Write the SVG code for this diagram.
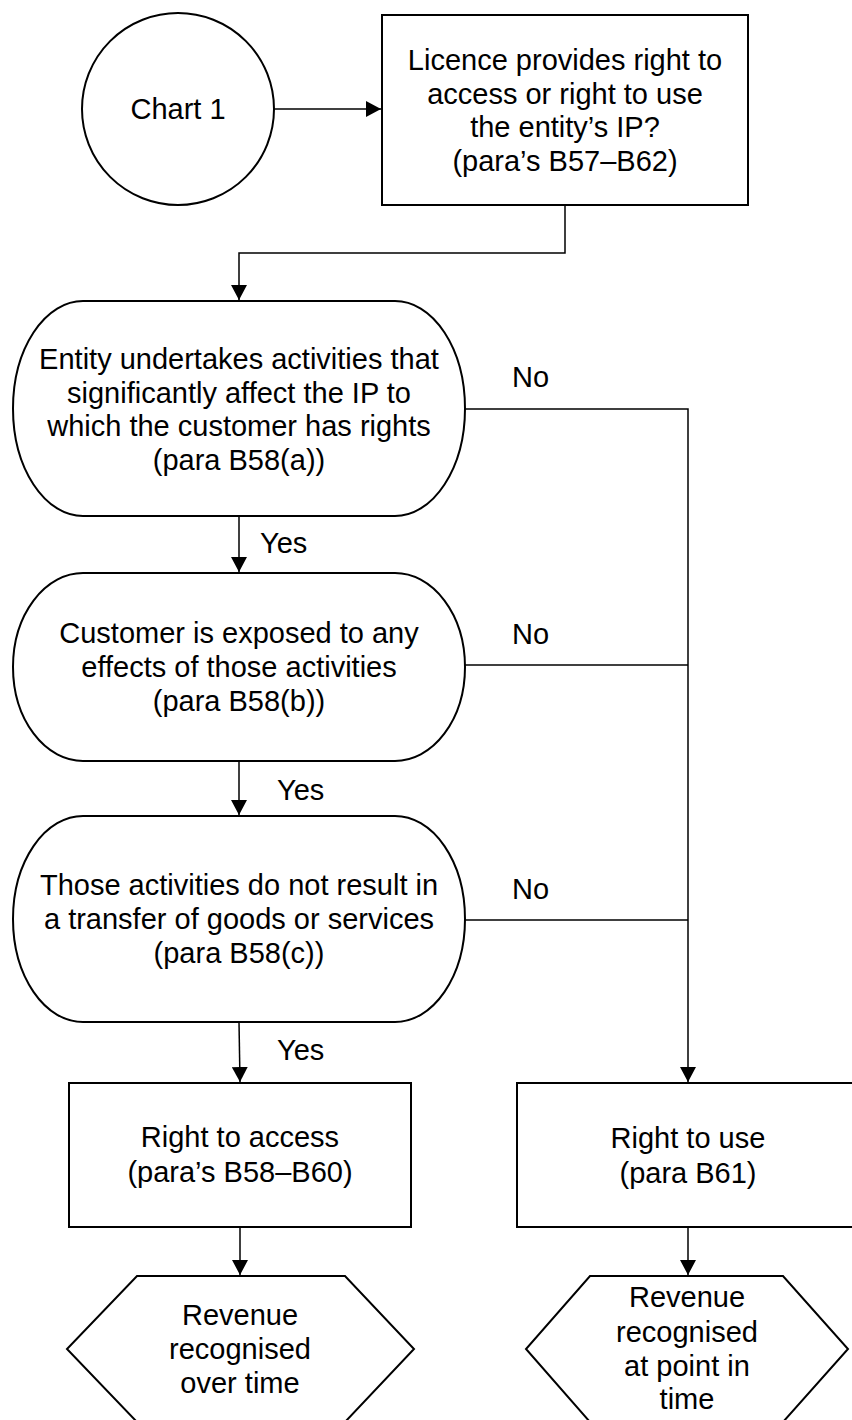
<svg xmlns="http://www.w3.org/2000/svg" width="852" height="1420" viewBox="0 0 852 1420">
<style>
.s{fill:#fff;stroke:#000;stroke-width:2}
.c{fill:none;stroke:#000;stroke-width:1.5}
text{font-family:"Liberation Sans",Arial,sans-serif;font-size:29px;fill:#000}
.m{text-anchor:middle}
</style>
<defs>
<marker id="ah" markerUnits="userSpaceOnUse" markerWidth="16" markerHeight="16" viewBox="0 0 16 16" refX="15" refY="8" orient="auto">
<path d="M0,0 L15,8 L0,16 Z" fill="#000"/>
</marker>
</defs>
<rect width="852" height="1420" fill="#fff"/>
<g id="connectors">
<path class="c" d="M274,109 H381" marker-end="url(#ah)"/>
<path class="c" d="M565,205 V253 H239 V300" marker-end="url(#ah)"/>
<path class="c" d="M239,516 V572" marker-end="url(#ah)"/>
<path class="c" d="M239,761 V815" marker-end="url(#ah)"/>
<path class="c" d="M239,1022 L240,1082" marker-end="url(#ah)"/>
<path class="c" d="M240,1227 V1275" marker-end="url(#ah)"/>
<path class="c" d="M465,409 H688 V1082" marker-end="url(#ah)"/>
<path class="c" d="M465,665 H688"/>
<path class="c" d="M465,920 H688"/>
<path class="c" d="M688,1227 V1275" marker-end="url(#ah)"/>
<text x="512" y="387">No</text>
<text x="512" y="644">No</text>
<text x="512" y="899">No</text>
<text x="260" y="553">Yes</text>
<text x="277" y="800">Yes</text>
<text x="277" y="1060">Yes</text>
</g>
<g id="start">
<circle class="s" cx="178" cy="109" r="96"/>
<text class="m" x="178" y="119">Chart 1</text>
</g>
<g id="licence">
<rect class="s" x="382" y="15" width="366" height="190"/>
<text class="m" x="565" y="70">Licence provides right to</text>
<text class="m" x="565" y="103.5">access or right to use</text>
<text class="m" x="565" y="137">the entity’s IP?</text>
<text class="m" x="565" y="170.5">(para’s B57–B62)</text>
</g>
<g id="activities">
<rect class="s" x="13" y="301" width="452" height="215" rx="70" ry="107.5"/>
<text class="m" x="239" y="369">Entity undertakes activities that</text>
<text class="m" x="239" y="402.5">significantly affect the IP to</text>
<text class="m" x="239" y="436">which the customer has rights</text>
<text class="m" x="239" y="470">(para B58(a))</text>
</g>
<g id="exposed">
<rect class="s" x="13" y="573" width="452" height="188" rx="70" ry="94"/>
<text class="m" x="239" y="643">Customer is exposed to any</text>
<text class="m" x="239" y="677">effects of those activities</text>
<text class="m" x="239" y="711">(para B58(b))</text>
</g>
<g id="transfer">
<rect class="s" x="13" y="816" width="452" height="206" rx="70" ry="103"/>
<text class="m" x="239" y="895">Those activities do not result in</text>
<text class="m" x="239" y="929">a transfer of goods or services</text>
<text class="m" x="239" y="963">(para B58(c))</text>
</g>
<g id="access">
<rect class="s" x="69" y="1083" width="342" height="144"/>
<text class="m" x="240" y="1147">Right to access</text>
<text class="m" x="240" y="1182">(para’s B58–B60)</text>
</g>
<g id="use">
<rect class="s" x="517" y="1083" width="342" height="144"/>
<text class="m" x="688" y="1148">Right to use</text>
<text class="m" x="688" y="1183">(para B61)</text>
</g>
<g id="overtime">
<polygon class="s" points="137,1276 345,1276 414,1349 345,1422 137,1422 67,1349"/>
<text class="m" x="240" y="1325">Revenue</text>
<text class="m" x="240" y="1359">recognised</text>
<text class="m" x="240" y="1393">over time</text>
</g>
<g id="pointintime">
<polygon class="s" points="590,1276 783,1276 848,1349 783,1422 590,1422 526,1349"/>
<text class="m" x="687" y="1307">Revenue</text>
<text class="m" x="687" y="1342">recognised</text>
<text class="m" x="687" y="1376">at point in</text>
<text class="m" x="687" y="1409">time</text>
</g>
</svg>
